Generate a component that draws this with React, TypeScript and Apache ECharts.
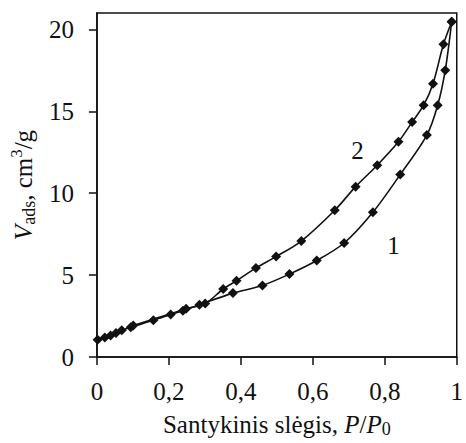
import React, { useEffect, useRef } from "react";
import * as echarts from "echarts";

const adsX = [0.002, 0.022, 0.038, 0.053, 0.069, 0.094, 0.157, 0.205, 0.239, 0.285, 0.378, 0.46, 0.535, 0.611, 0.687, 0.767, 0.843, 0.917, 0.947, 0.968, 0.986];
const adsY = [1.05, 1.19, 1.32, 1.46, 1.64, 1.82, 2.24, 2.59, 2.83, 3.19, 3.9, 4.37, 5.06, 5.89, 6.96, 8.84, 11.14, 13.55, 15.37, 17.5, 20.47];
const desX = [0.986, 0.963, 0.934, 0.908, 0.876, 0.838, 0.779, 0.719, 0.661, 0.568, 0.498, 0.442, 0.388, 0.351, 0.301, 0.248, 0.101];
const desY = [20.47, 19.09, 16.68, 15.37, 14.34, 13.14, 11.71, 10.4, 8.96, 7.08, 6.13, 5.44, 4.65, 4.15, 3.26, 2.95, 1.92];
const yTicks = [0, 5, 10, 15, 20];
const curveLabels = [
  { text: "1", x: 0.824, y: 6.8 },
  { text: "2", x: 0.724, y: 12.6 },
];

const FONT = "Liberation Serif";
const INK = "#111";

export default function App() {
  const ref = useRef<HTMLDivElement>(null);
  useEffect(() => {
    if (!ref.current) return;
    const chart = echarts.init(ref.current, undefined, { renderer: "svg" });
    const mk = (xs: number[], ys: number[]) => xs.map((x, i) => [x, ys[i]]);
    const labelMark = (t: { text: string; x: number; y: number }) => ({
      coord: [t.x, t.y],
      symbol: "circle",
      symbolSize: 0,
      label: {
        show: true,
        formatter: t.text,
        position: "inside",
        fontFamily: FONT,
        fontSize: 25,
        color: INK,
      },
    });
    chart.setOption({
      animation: false,
      backgroundColor: "#fff",
      textStyle: { fontFamily: FONT },
      grid: {
        left: 92,
        right: 5,
        top: 13,
        bottom: 78,
        show: true,
        borderColor: INK,
        borderWidth: 1.5,
        containLabel: false,
      },
      xAxis: {
        type: "value",
        min: 0,
        max: 1,
        interval: 0.2,
        axisLine: { show: true, lineStyle: { color: INK, width: 1.5 } },
        axisTick: { show: true, inside: false, length: 8, lineStyle: { color: INK, width: 1.5 } },
        splitLine: { show: false },
        axisLabel: {
          fontFamily: FONT,
          fontSize: 25,
          color: INK,
          margin: 22,
          formatter: (v: number) => String(Math.round(v * 10) / 10).replace(".", ","),
        },
        name: "{n|Santykinis slėgis, }{i|P}{n|/}{i|P}{sub|0}",
        nameLocation: "middle",
        nameGap: 53,
        nameTextStyle: {
          fontFamily: FONT,
          rich: {
            n: { fontFamily: FONT, fontSize: 25, color: INK, lineHeight: 28 },
            i: { fontFamily: FONT, fontSize: 25, fontStyle: "italic", color: INK, lineHeight: 28 },
            sub: { fontFamily: FONT, fontSize: 18, color: INK, verticalAlign: "bottom", lineHeight: 28 },
          },
        },
      },
      yAxis: {
        type: "value",
        min: 0,
        max: 21,
        axisLine: { show: true, lineStyle: { color: INK, width: 1.5 } },
        axisTick: { show: true, inside: false, length: 8, customValues: yTicks, lineStyle: { color: INK, width: 1.5 } },
        splitLine: { show: false },
        axisLabel: {
          fontFamily: FONT,
          fontSize: 25,
          color: INK,
          margin: 23,
          customValues: yTicks,
        },
        name: "{i|V}{sub|ads}{n|, cm}{sup|3}{n|/g}",
        nameLocation: "middle",
        nameGap: 58,
        nameTextStyle: {
          fontFamily: FONT,
          rich: {
            n: { fontFamily: FONT, fontSize: 25, color: INK, lineHeight: 30 },
            i: { fontFamily: FONT, fontSize: 25, fontStyle: "italic", color: INK, lineHeight: 30 },
            sub: { fontFamily: FONT, fontSize: 18, color: INK, verticalAlign: "bottom", lineHeight: 30 },
            sup: { fontFamily: FONT, fontSize: 17, color: INK, verticalAlign: "top", lineHeight: 30 },
          },
        },
      },
      series: [
        {
          type: "line",
          data: mk(adsX, adsY),
          smooth: 0.3,
          symbol: "diamond",
          symbolSize: 10,
          itemStyle: { color: INK },
          lineStyle: { color: INK, width: 1.6 },
          markPoint: { data: [labelMark(curveLabels[0])] },
        },
        {
          type: "line",
          data: mk(desX, desY),
          smooth: 0.3,
          symbol: "diamond",
          symbolSize: 10,
          itemStyle: { color: INK },
          lineStyle: { color: INK, width: 1.6 },
          markPoint: { data: [labelMark(curveLabels[1])] },
        },
      ],
    });
    return () => chart.dispose();
  }, []);
  return (
    <div
      ref={ref}
      style={{ position: "fixed", left: 0, top: 0, width: 466, height: 443, background: "#fff" }}
    />
  );
}
